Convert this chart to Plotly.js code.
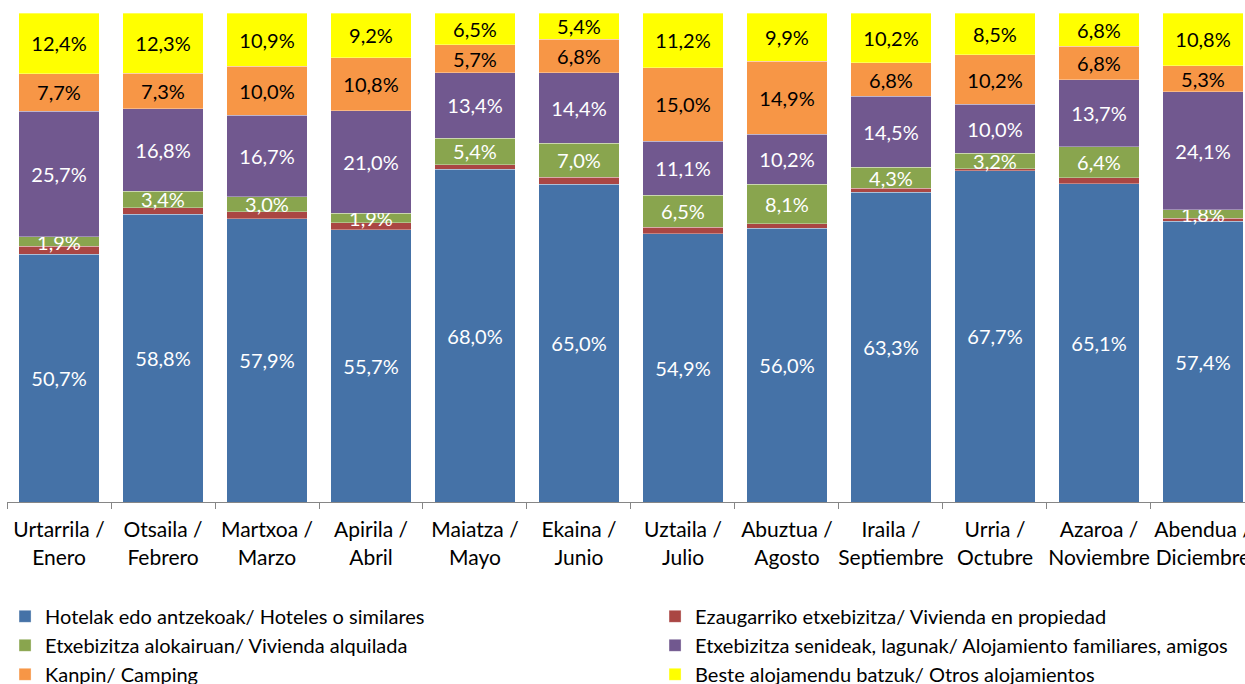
<!DOCTYPE html>
<html><head><meta charset="utf-8">
<script src="https://cdn.plot.ly/plotly-3.0.1.min.js"></script>
<style>html,body{margin:0;padding:0;overflow:hidden;background:#fff;width:1245px;height:684px}</style>
</head><body><div id="chart" style="width:1310px;height:700px"></div>
<script>
const months = ['Urtarrila /<br>Enero','Otsaila /<br>Febrero','Martxoa /<br>Marzo','Apirila /<br>Abril','Maiatza /<br>Mayo','Ekaina /<br>Junio','Uztaila /<br>Julio','Abuztua /<br>Agosto','Iraila /<br>Septiembre','Urria /<br>Octubre','Azaroa /<br>Noviembre','Abendua /<br>Diciembre'];
const hoteles    = [50.7,58.8,57.9,55.7,68.0,65.0,54.9,56.0,63.3,67.7,65.1,57.4];
const propiedad  = [1.6,1.4,1.5,1.4,1.0,1.4,1.3,0.9,0.9,0.4,1.2,0.6];
const alquilada  = [1.9,3.4,3.0,1.9,5.4,7.0,6.5,8.1,4.3,3.2,6.4,1.8];
const familiares = [25.7,16.8,16.7,21.0,13.4,14.4,11.1,10.2,14.5,10.0,13.7,24.1];
const camping    = [7.7,7.3,10.0,10.8,5.7,6.8,15.0,14.9,6.8,10.2,6.8,5.3];
const otros      = [12.4,12.3,10.9,9.2,6.5,5.4,11.2,9.9,10.2,8.5,6.8,10.8];
const seriesNames = [
  'Hotelak edo antzekoak/ Hoteles o similares',
  'Ezaugarriko etxebizitza/ Vivienda en propiedad',
  'Etxebizitza alokairuan/ Vivienda alquilada',
  'Etxebizitza senideak, lagunak/ Alojamiento familiares, amigos',
  'Kanpin/ Camping',
  'Beste alojamendu batzuk/ Otros alojamientos'
];
const seriesValues = [hoteles, propiedad, alquilada, familiares, camping, otros];
const colors = ['#4572A7','#AA4643','#89A54E','#71588F','#F79646','#FFFF00'];
const textColors = ['#ffffff','#ffffff','#ffffff','#ffffff','#000000','#000000'];
const showText = [true,false,true,true,true,true];

const FONT = 'Lato, "Open Sans", sans-serif';
const traces = seriesValues.map((vals, i) => ({
  type: 'bar',
  name: seriesNames[i],
  x: months,
  y: vals,
  marker: {color: colors[i], line: {width: 0.6, color: 'rgba(255,255,255,0.55)'}},
  texttemplate: showText[i] ? '%{y:.1f}%' : '',
  textposition: showText[i] ? 'inside' : 'none',
  insidetextanchor: 'middle',
  constraintext: 'none',
  textangle: 0,
  textfont: {family: FONT, size: 20, color: textColors[i]},
  hoverinfo: 'skip'
}));

const layout = {
  width: 1310, height: 700,
  barmode: 'stack',
  bargap: 0.23,
  separators: ',.',
  margin: {l: 7, r: 0, t: 13, b: 198},
  paper_bgcolor: '#ffffff',
  plot_bgcolor: '#ffffff',
  font: {family: FONT, size: 21, color: '#000000'},
  xaxis: {
    type: 'category',
    range: [-0.5, 12.029],
    showline: true, linecolor: '#868686', linewidth: 1,
    ticks: 'outside', tickson: 'boundaries', ticklen: 6, tickcolor: '#868686',
    tickangle: 0,
    ticklabelstandoff: 9,
    tickfont: {family: FONT, size: 21, color: '#000000'},
    showgrid: false, zeroline: false, fixedrange: true
  },
  yaxis: {
    range: [0, 100], visible: false, showgrid: false, zeroline: false, fixedrange: true
  },
  showlegend: true,
  legend: {
    orientation: 'h',
    x: -0.0015, xanchor: 'left',
    y: -0.194, yanchor: 'top',
    entrywidth: 605, entrywidthmode: 'pixels',
    traceorder: 'normal',
    font: {family: FONT, size: 20, color: '#000000'},
    bgcolor: 'rgba(0,0,0,0)'
  }
};
Plotly.newPlot('chart', traces, layout, {displayModeBar: false, staticPlot: true});
</script></body></html>
